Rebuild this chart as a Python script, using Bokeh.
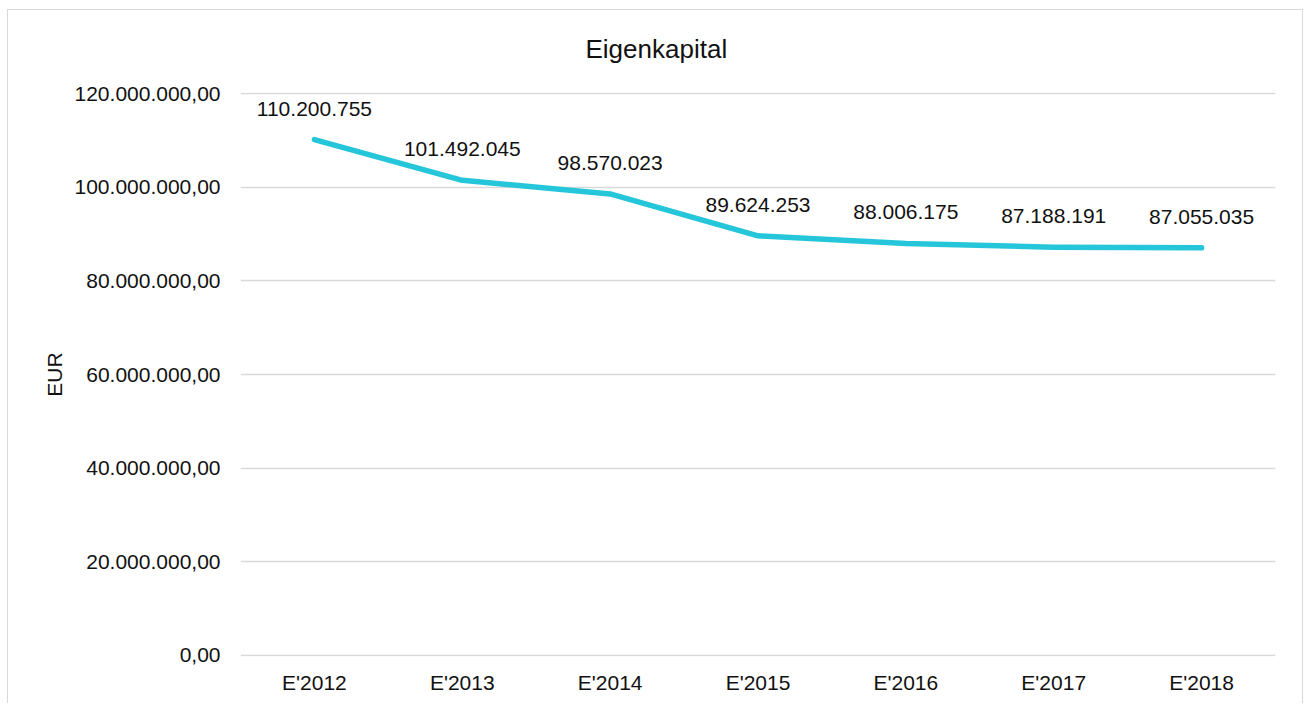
from bokeh.plotting import figure
from bokeh.models import FactorRange, Range1d, FixedTicker, ColumnDataSource
from bokeh.core.properties import value
from bokeh.embed import file_html
from bokeh.resources import INLINE

categories = ["E'2012", "E'2013", "E'2014", "E'2015", "E'2016", "E'2017", "E'2018"]
eigenkapital = [110200755, 101492045, 98570023, 89624253, 88006175, 87188191, 87055035]
y_ticks = [0, 20000000, 40000000, 60000000, 80000000, 100000000, 120000000]
y_tick_labels = ["0,00", "20.000.000,00", "40.000.000,00", "60.000.000,00",
                 "80.000.000,00", "100.000.000,00", "120.000.000,00"]
title_text = "Eigenkapital"

FONT = "Liberation Sans"
TXT = "#111111"
BORDER = "#d9d9d9"

labels = [f"{v:,}".replace(",", ".") for v in eigenkapital]
src = ColumnDataSource(dict(x=categories, y=eigenkapital, lab=labels))

p = figure(x_range=FactorRange(*categories), y_range=Range1d(-250000, 120250000),
           width=1296, height=702, output_backend="svg", toolbar_location=None,
           min_border_left=233, min_border_right=28, min_border_top=91, min_border_bottom=47)
# outer chart border drawn as CSS background lines behind a transparent canvas border area
grad = f"linear-gradient({BORDER},{BORDER})"
p.styles = {
    "margin-left": "7px", "margin-top": "1px",
    "background": (f"{grad} 0 8px / 100% 1px no-repeat, "
                   f"{grad} 0 8px / 1px 100% no-repeat, "
                   f"{grad} 100% 8px / 1px 100% no-repeat, white"),
}
p.border_fill_alpha = 0
p.background_fill_color = "white"

p.title.text = title_text
p.title.align = "left"
p.title.offset = 345
p.title.standoff = 57
p.title.text_font = FONT
p.title.text_font_size = "26px"
p.title.text_font_style = "normal"
p.title.text_color = TXT

p.outline_line_color = None
p.xgrid.grid_line_color = None
p.ygrid.grid_line_color = BORDER
p.ygrid.grid_line_width = 1.5

p.yaxis.ticker = FixedTicker(ticks=y_ticks)
p.yaxis.major_label_overrides = {t: l for t, l in zip(y_ticks, y_tick_labels)}
p.yaxis.axis_label = "EUR"
for ax in (p.xaxis, p.yaxis):
    ax.axis_line_color = None
    ax.major_tick_line_color = None
    ax.minor_tick_line_color = None
    ax.major_tick_out = 0
    ax.major_tick_in = 0
    ax.minor_tick_out = 0
    ax.minor_tick_in = 0
    ax.major_label_text_font = FONT
    ax.major_label_text_font_size = "21px"
    ax.major_label_text_color = TXT
    ax.axis_label_text_font = FONT
    ax.axis_label_text_font_size = "21px"
    ax.axis_label_text_font_style = "normal"
    ax.axis_label_text_color = TXT
p.yaxis.major_label_standoff = 20
p.yaxis.axis_label_standoff = 6
p.xaxis.major_label_standoff = 14

p.line("x", "y", source=src, line_color="#26C6DA", line_width=5.5,
       line_cap="round", line_join="round")
p.text("x", "y", text="lab", source=src, text_font=value(FONT), text_font_size="21px",
       text_color=TXT, text_align="center", text_baseline="middle", y_offset=-31)

open("out.html", "w").write(file_html(p, INLINE))
